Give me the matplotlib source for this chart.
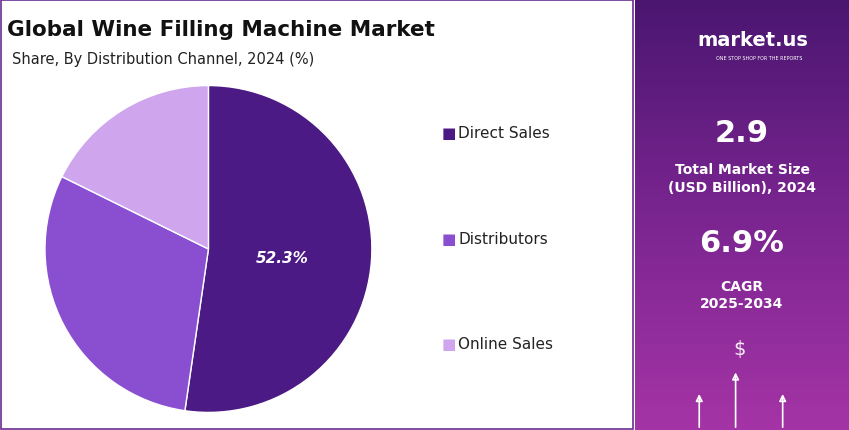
import matplotlib.pyplot as plt
import numpy as np
from matplotlib.patches import Rectangle
from matplotlib.colors import LinearSegmentedColormap

labels = ["Direct Sales", "Distributors", "Online Sales"]
shares = [52.3, 30.0, 17.7]
colors = ["#4c1a84", "#8a4fd0", "#cfa6ee"]

fig = plt.figure(figsize=(8.49, 4.31), dpi=100)
fig.patch.set_facecolor("white")

fig.add_artist(Rectangle((0.001, 0.002), 0.745, 0.995, transform=fig.transFigure,
                         fill=False, edgecolor="#6a2c91", lw=1.2))

fig.text(0.008, 0.93, "Global Wine Filling Machine Market", fontsize=15.5,
         fontweight="bold", color="#111111", va="center")
fig.text(0.014, 0.862, "Share, By Distribution Channel, 2024 (%)", fontsize=10.5,
         color="#222222", va="center")

ax = fig.add_axes([0.051, 0.037, 0.389, 0.766])
ax.pie(shares, colors=colors, startangle=90, counterclock=False,
       wedgeprops=dict(edgecolor="white", linewidth=1))
ax.set_xlim(-1.01, 1.01); ax.set_ylim(-1.01, 1.01)
ax.text(0.45, -0.05, f"{shares[0]}%", color="white", fontsize=11, fontweight="bold",
        style="italic", ha="center", va="center")

for i, (lab, c) in enumerate(zip(labels, colors)):
    y = 0.69 - i * 0.245
    fig.text(0.52, y, "■", color=c, fontsize=11, va="center")
    fig.text(0.54, y, lab, fontsize=11, color="#222222", va="center")

rax = fig.add_axes([0.748, 0.0, 0.252, 1.0])
grad = np.linspace(0, 1, 256).reshape(-1, 1)
cmap = LinearSegmentedColormap.from_list("p", ["#4a1670", "#7a2590", "#a534a6"])
rax.imshow(grad, aspect="auto", cmap=cmap, extent=[0, 1, 0, 1], origin="upper")
rax.set_xlim(0, 1); rax.set_ylim(0, 1); rax.axis("off")
rax.text(0.55, 0.905, "market.us", color="white", fontsize=14, fontweight="bold", ha="center", va="center")
rax.text(0.58, 0.865, "ONE STOP SHOP FOR THE REPORTS", color="white", fontsize=3.5, ha="center", va="center")
rax.text(0.5, 0.69, "2.9", color="white", fontsize=22, fontweight="bold", ha="center", va="center")
rax.text(0.5, 0.585, "Total Market Size\n(USD Billion), 2024", color="white", fontsize=10,
         fontweight="bold", ha="center", va="center", linespacing=1.3)
rax.text(0.5, 0.435, "6.9%", color="white", fontsize=22, fontweight="bold", ha="center", va="center")
rax.text(0.5, 0.315, "CAGR\n2025-2034", color="white", fontsize=10,
         fontweight="bold", ha="center", va="center", linespacing=1.3)
rax.text(0.49, 0.19, "$", color="white", fontsize=14, ha="center", va="center", alpha=0.9)
for x0, h in [(0.3, 0.09), (0.47, 0.14), (0.69, 0.09)]:
    rax.annotate("", xy=(x0, h), xytext=(x0, 0.0),
                 arrowprops=dict(arrowstyle="-|>", color="white", lw=1.2, fill=False))

fig.savefig("out.png", dpi=100)
